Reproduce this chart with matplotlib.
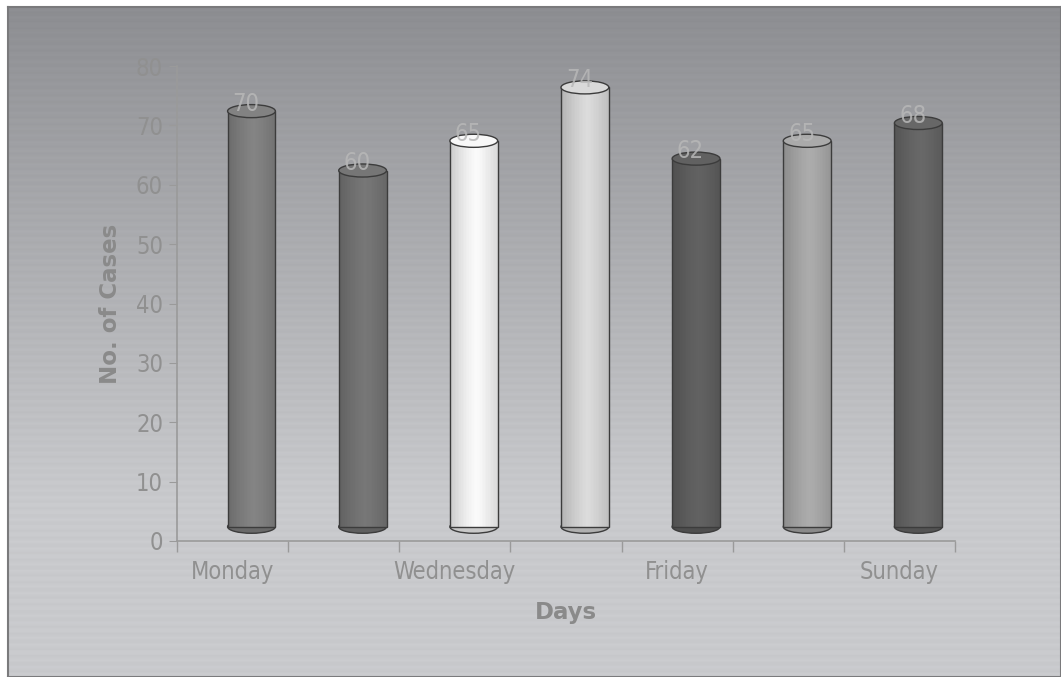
import numpy as np
import matplotlib
matplotlib.use("Agg")
import matplotlib.pyplot as plt
from matplotlib.patches import Rectangle, Ellipse

# ---- data ----
days = ["Monday", "Tuesday", "Wednesday", "Thursday", "Friday", "Saturday", "Sunday"]
cases = [70, 60, 65, 74, 62, 65, 68]
bar_colors = ["#7c7c7c", "#707070", "#ececec", "#cfcfcf", "#5c5c5c", "#a2a2a2", "#626262"]
shown_labels = ["Monday", "", "Wednesday", "", "Friday", "", "Sunday"]
y_ticks = [0, 10, 20, 30, 40, 50, 60, 70, 80]

plt.rcParams["font.family"] = ["DejaVu Sans"]
plt.rcParams["font.stretch"] = "condensed"

W, H = 1061, 677
fig = plt.figure(figsize=(W / 100, H / 100), dpi=100)
fig.patch.set_facecolor("white")

# background panel with vertical gradient
bg = fig.add_axes([8 / W, 0, 1 - 8 / W, (H - 7) / H], zorder=-5)
grad = np.linspace(0, 1, 300)
top_c = np.array([0x8c, 0x8d, 0x91]) / 255
bot_c = np.array([0xc9, 0xca, 0xcd]) / 255
prof = np.clip(grad * 1.35, 0, 1) ** 0.9
img = top_c[None, :] * (1 - prof[:, None]) + bot_c[None, :] * prof[:, None]
stripes = 1 + 0.012 * np.sin(np.arange(300) * 1.9)
img = np.clip(img * stripes[:, None], 0, 1)
img = np.repeat(img[:, None, :], 2, axis=1)
bg.imshow(img, aspect="auto", extent=[0, 1, 0, 1], origin="upper")
bg.set_xlim(0, 1); bg.set_ylim(0, 1)
bg.set_xticks([]); bg.set_yticks([])
for s in bg.spines.values():
    s.set_color("#7a7a7c"); s.set_linewidth(1.5)

ax = fig.add_axes([177 / W, 136 / H, 778 / W, 475 / H])
ax.set_facecolor("none")
ax.set_xlim(-0.5, 6.5)
ax.set_ylim(0, 80)

shift, bw, dy, eh = 0.17, 0.43, 2.4, 2.2
for i, (v, c) in enumerate(zip(cases, bar_colors)):
    base = np.array(matplotlib.colors.to_rgb(c))
    xc = i + shift
    x0 = xc - bw / 2
    ax.add_patch(Ellipse((xc, dy), bw, eh, facecolor=base * 0.85, edgecolor="#3c3c3c",
                         lw=1.0, zorder=2))
    n = 30
    for k in range(n):
        t = (k + 0.5) / n
        f = 0.86 + 0.22 * np.sin(np.pi * min(t / 0.75, 1.0) * 0.5) * (1 - max(0, t - 0.55) * 1.6)
        col = np.clip(base * f, 0, 1)
        ax.add_patch(Rectangle((x0 + k * bw / n, dy), bw / n * 1.05, v, facecolor=col,
                               edgecolor="none", zorder=3))
    ax.add_patch(Rectangle((x0, dy), bw, v, facecolor="none", edgecolor="#3c3c3c",
                           lw=1.0, zorder=4))
    ax.add_patch(Ellipse((xc, v + dy), bw, eh, facecolor=np.clip(base * 1.05, 0, 1),
                         edgecolor="#3c3c3c", lw=1.0, zorder=5))
    ax.text(xc - 0.05, v + dy + 1.2, str(v), ha="center", va="center", fontsize=17,
            color="#b8b8b8", alpha=0.85, zorder=6)

ax.set_yticks(y_ticks)
ax.set_yticklabels([str(t) for t in y_ticks])
ax.set_xticks(np.arange(len(days)))
ax.set_xticklabels(shown_labels)
ax.set_xticks(np.arange(-0.5, len(days)), minor=True)
ax.tick_params(axis="x", which="major", length=0, pad=14, labelsize=17, labelcolor="#909090")
ax.tick_params(axis="x", which="minor", length=8, color="#9a9a9a", width=1)
ax.tick_params(axis="y", length=6, color="#9a9a9a", labelsize=17, labelcolor="#909090", pad=4)
for s in ["top", "right"]:
    ax.spines[s].set_visible(False)
for s in ["left", "bottom"]:
    ax.spines[s].set_color("#9a9a9a")
    ax.spines[s].set_linewidth(1.2)

ax.set_xlabel("Days", fontsize=16.5, fontweight="bold", fontstretch="normal",
              color="#8a8a8a", labelpad=12)
ax.set_ylabel("No. of Cases", fontsize=16.5, fontweight="bold", fontstretch="normal",
              color="#8a8a8a", labelpad=10)

fig.savefig("out.png", dpi=100)
